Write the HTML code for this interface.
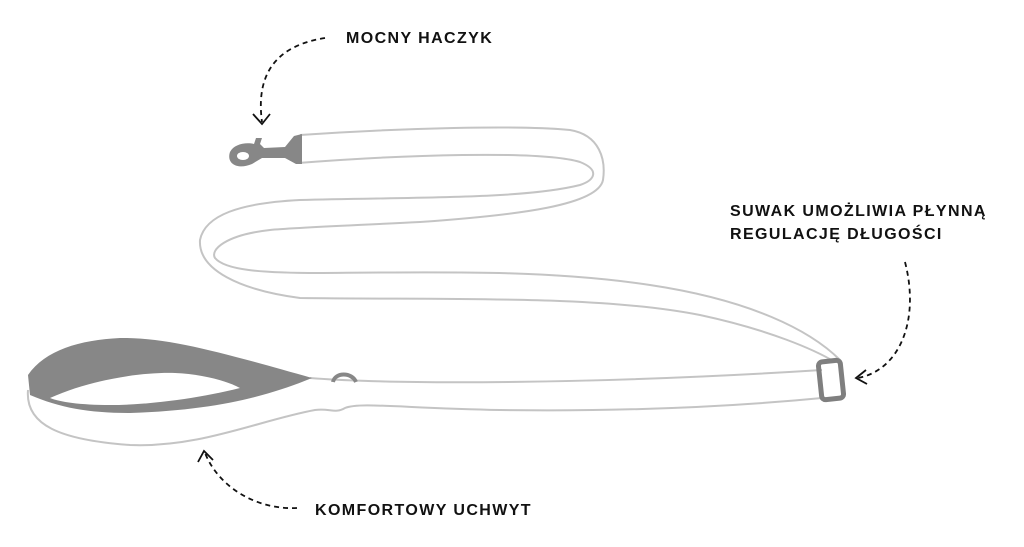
<!DOCTYPE html>
<html><head><meta charset="utf-8"><style>
html,body{margin:0;padding:0;background:#fff;width:1024px;height:547px;overflow:hidden}
svg{display:block}
text{font-family:"Liberation Sans",sans-serif;font-weight:bold;font-size:16px;fill:#111;letter-spacing:1.4px}
</style></head><body>
<svg width="1024" height="547" viewBox="0 0 1024 547">
<g fill="none" stroke="#c4c4c4" stroke-width="2">
<path d="M298,163 C400,155 540,150 580,162 C600,170 595,180 580,185 C520,200 400,197 300,200 C240,203 205,215 200,240 C198,270 240,290 300,298 C450,300 600,295 700,315 C770,330 815,350 835,362"/>
<path d="M300,135 C400,128 520,125 570,130 C600,135 606,160 603,180 C598,205 520,215 420,222 C340,226 290,228 270,230 C225,235 210,250 215,258 C225,270 260,273 320,273 C450,272 550,270 650,285 C750,300 810,330 840,360"/>
<path d="M310,378 C400,385 600,384 822,370"/>
<path d="M28,390 C25,425 60,440 130,445 C200,448 260,420 315,410 C330,408 335,414 345,408 C360,402 400,408 500,410 C650,412 760,404 822,398"/>
</g>
<path d="M28,375 C45,350 80,340 120,338 C170,337 230,355 312,378 C270,395 220,410 130,413 C90,413 60,408 30,395 Z" fill="#878787"/>
<path d="M50,398 C90,380 140,372 175,373 C200,374 225,380 240,388 C200,398 150,405 110,405 C80,405 60,402 50,398 Z" fill="#fff"/>
<path d="M333,382 C335,372 352,372 356,382" fill="none" stroke="#878787" stroke-width="4"/>
<g fill="#878787">
<path d="M230,152 C226,164 238,170 252,164 L262,158 L285,158 L296,164 L302,164 L302,134 L294,136 L285,147 L264,148 L260,144 L262,138 L256,138 L254,144 C246,142 234,144 230,152 Z"/>
<ellipse cx="243" cy="156" rx="6" ry="4" fill="#fff"/>
</g>
<rect x="820" y="361" width="22" height="38" rx="4" fill="none" stroke="#7f7f7f" stroke-width="5" transform="rotate(-6 831 380)"/>
<g fill="none" stroke="#111" stroke-width="1.8">
<path d="M325,38 C280,45 255,70 262,122" stroke-dasharray="5,4"/>
<path d="M253,114 L262,124 L270,114"/>
<path d="M905,262 C920,320 900,370 858,378" stroke-dasharray="5,4"/>
<path d="M866,370 L856,378 L867,384"/>
<path d="M297,508 C260,510 220,490 205,453" stroke-dasharray="5,4"/>
<path d="M198,462 L204,451 L213,460"/>
</g>
<text x="346" y="43">MOCNY HACZYK</text>
<text x="730" y="216">SUWAK UMOŻLIWIA PŁYNNĄ</text>
<text x="730" y="239">REGULACJĘ DŁUGOŚCI</text>
<text x="315" y="515">KOMFORTOWY UCHWYT</text>
</svg>
</body></html>
